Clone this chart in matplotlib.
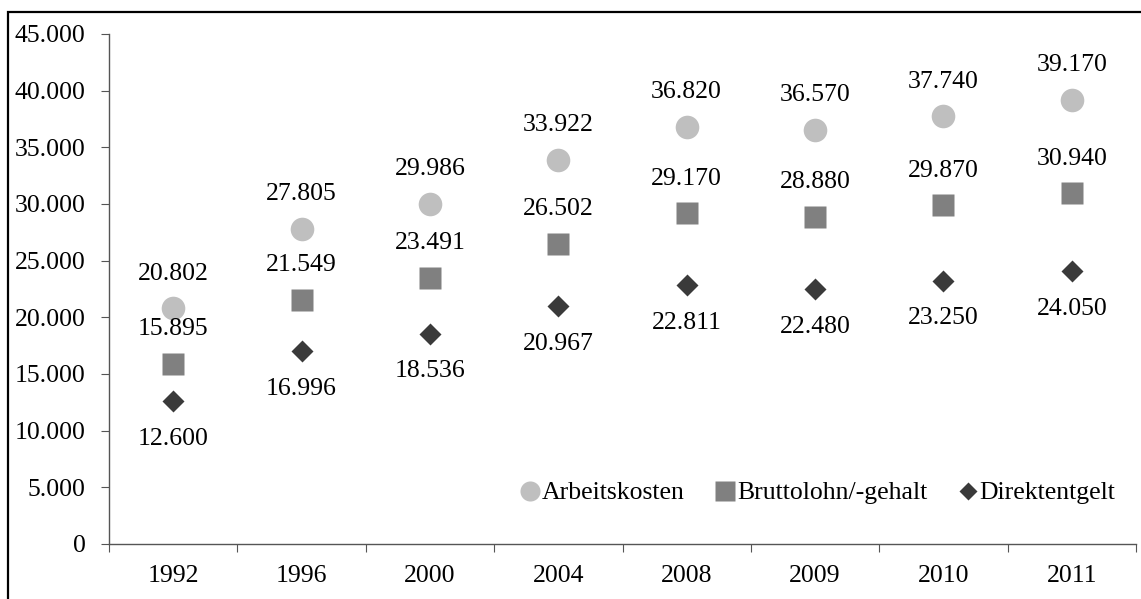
import numpy as np
import matplotlib
matplotlib.use('Agg')
import matplotlib.pyplot as plt
from matplotlib.patches import Rectangle

# ---------------- data ----------------
years = ['1992', '1996', '2000', '2004', '2008', '2009', '2010', '2011']
arbeitskosten = [20802, 27805, 29986, 33922, 36820, 36570, 37740, 39170]
bruttolohn = [15895, 21549, 23491, 26502, 29170, 28880, 29870, 30940]
direktentgelt = [12600, 16996, 18536, 20967, 22811, 22480, 23250, 24050]
y_ticks = [0, 5000, 10000, 15000, 20000, 25000, 30000, 35000, 40000, 45000]


def de_fmt(v):
    return f'{v:,}'.replace(',', '.')


plt.rcParams['font.family'] = ['Liberation Serif', 'DejaVu Serif']
fs = 18.5

fig = plt.figure(figsize=(11.41, 5.99), dpi=100)
ax = fig.add_axes([109 / 1141, 55 / 599, 1027 / 1141, 510 / 599])

x = np.arange(len(years))
ax.plot(x, arbeitskosten, 'o', color='#BFBFBF', ms=17, mec='none', label='Arbeitskosten', clip_on=False)
ax.plot(x, bruttolohn, 's', color='#808080', ms=16.5, mec='none', label='Bruttolohn/-gehalt', clip_on=False)
ax.plot(x, direktentgelt, 'D', color='#3A3A3A', ms=11.3, mec='none', label='Direktentgelt', clip_on=False)

# data labels: above for circles / squares, below for diamonds
for xi, v in zip(x, arbeitskosten):
    ax.annotate(de_fmt(v), (xi, v), xytext=(0, 25), textcoords='offset points',
                ha='center', va='center', fontsize=fs)
for xi, v in zip(x, bruttolohn):
    ax.annotate(de_fmt(v), (xi, v), xytext=(0, 25), textcoords='offset points',
                ha='center', va='center', fontsize=fs)
for xi, v in zip(x, direktentgelt):
    ax.annotate(de_fmt(v), (xi, v), xytext=(0, -27), textcoords='offset points',
                ha='center', va='center', fontsize=fs)

ax.set_xlim(-0.5, len(years) - 0.5)
ax.set_ylim(0, 45000)
ax.set_yticks(y_ticks)
ax.set_yticklabels([de_fmt(v) for v in y_ticks], fontsize=fs)

ax.set_xticks(np.arange(-0.5, len(years)), labels=[''] * (len(years) + 1))
ax.set_xticks(x, minor=True)
ax.set_xticklabels(years, minor=True, fontsize=fs)
ax.tick_params(axis='x', which='major', direction='out', length=6, color='#555555')
ax.tick_params(axis='x', which='minor', length=0, pad=15)
ax.tick_params(axis='y', direction='out', length=6, pad=11, color='#555555')

for s in ['top', 'right']:
    ax.spines[s].set_visible(False)
for s in ['left', 'bottom']:
    ax.spines[s].set_color('#555555')
    ax.spines[s].set_linewidth(1)

leg = ax.legend(loc='center right', bbox_to_anchor=(0.995, 0.10), ncol=3, frameon=False,
                fontsize=fs, handlelength=0.75, handletextpad=0.08, columnspacing=1.2,
                markerscale=0.85, borderaxespad=0.2)

# outer frame around chart area
fig.patches.append(Rectangle((8 / 1141, -0.1), 1.2, 1.1 - 12 / 599, transform=fig.transFigure,
                             fill=False, edgecolor='black', linewidth=1.6, clip_on=False))

fig.savefig('out.png', dpi=100)
